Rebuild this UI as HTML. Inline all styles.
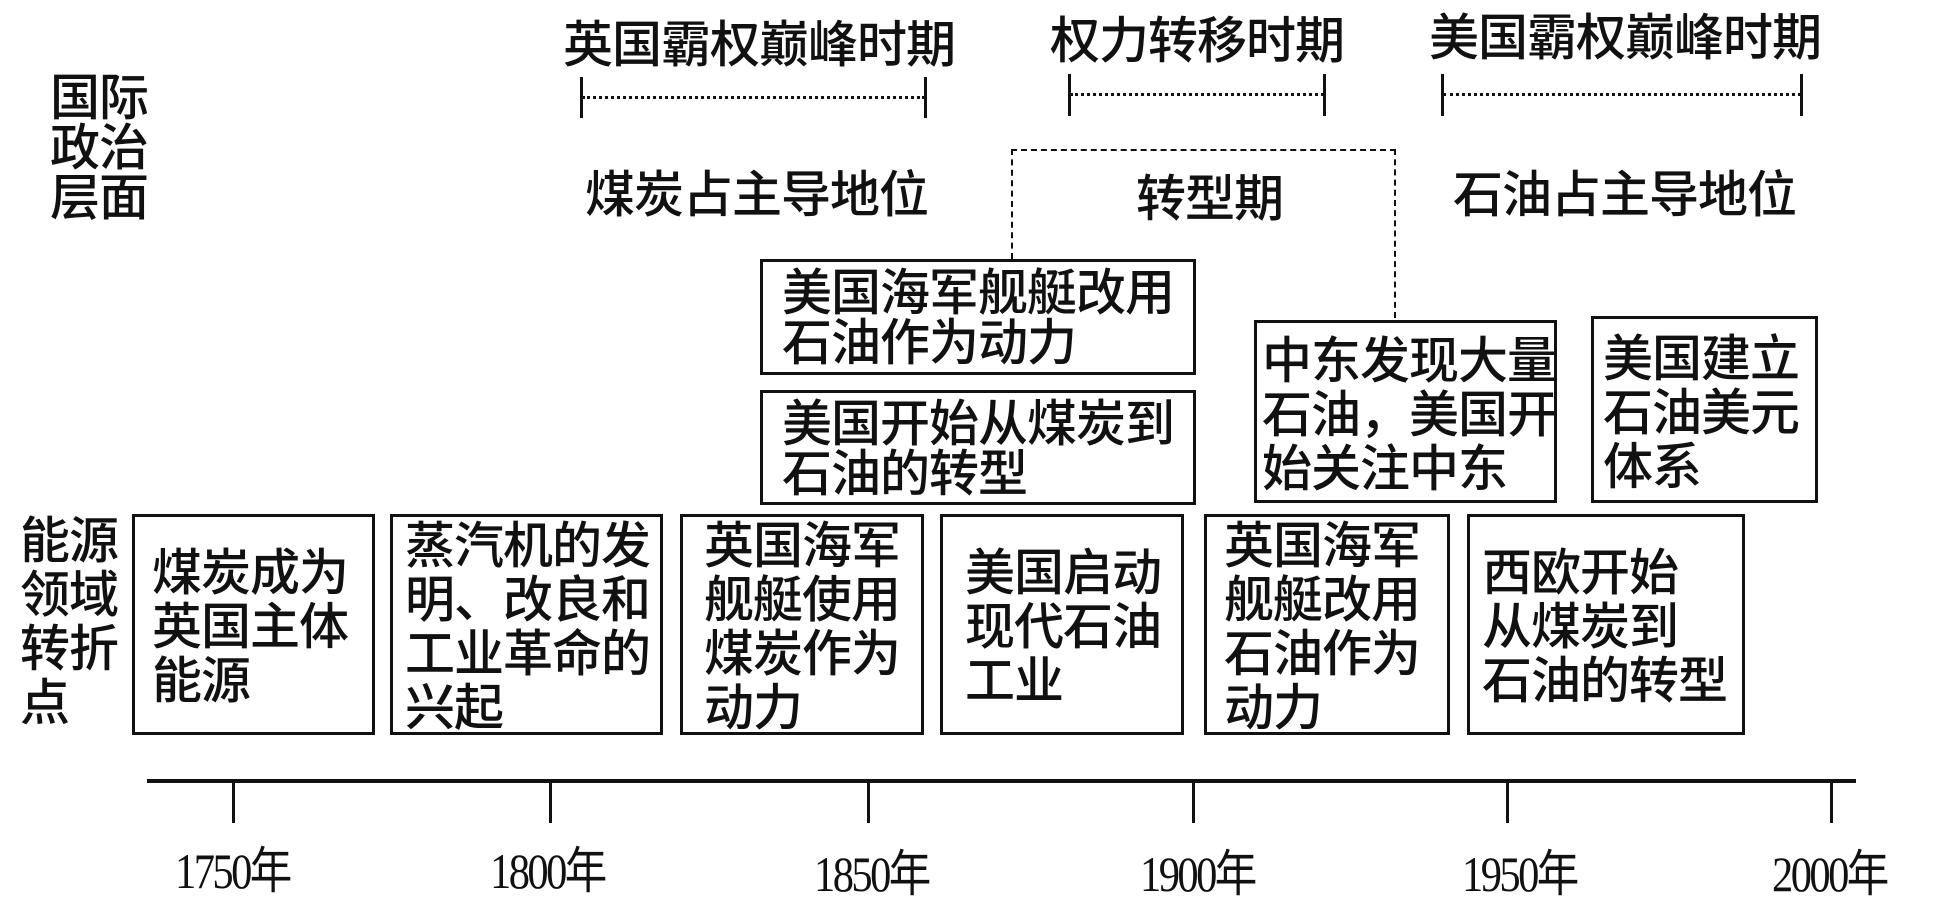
<!DOCTYPE html>
<html><head><meta charset="utf-8"><style>
body{margin:0;width:1953px;height:899px;background:#fff;position:relative;overflow:hidden;font-family:"Liberation Sans","Noto Sans CJK SC",sans-serif;color:#111}
.t{position:absolute;font-size:50px;line-height:54px;white-space:nowrap;font-weight:500;letter-spacing:-1px}
.b{position:absolute;border:3px solid #111;box-sizing:border-box}
.l{position:absolute;background:#111}
.d{position:absolute;border-top:3px dashed #111}
.y{position:absolute;font-family:"Liberation Serif","Noto Sans CJK SC",serif;font-size:50px;transform:scaleX(0.85);transform-origin:left;white-space:nowrap;letter-spacing:-3px}
</style></head><body>
<div class="t" style="left:563px;top:18px;">英国霸权巅峰时期</div>
<div class="t" style="left:1050px;top:14px;">权力转移时期</div>
<div class="t" style="left:1429px;top:11px;">美国霸权巅峰时期</div>
<div class="d" style="left:582px;top:96px;width:343px;border-top-style:dotted"></div>
<div class="l" style="left:580px;top:77px;width:3px;height:41px"></div>
<div class="l" style="left:924px;top:77px;width:3px;height:41px"></div>
<div class="d" style="left:1070px;top:93px;width:254px;border-top-style:dotted"></div>
<div class="l" style="left:1068px;top:74px;width:3px;height:42px"></div>
<div class="l" style="left:1323px;top:74px;width:3px;height:42px"></div>
<div class="d" style="left:1443px;top:93px;width:358px;border-top-style:dotted"></div>
<div class="l" style="left:1441px;top:74px;width:3px;height:42px"></div>
<div class="l" style="left:1800px;top:74px;width:3px;height:42px"></div>
<div class="t" style="left:50px;top:73px;line-height:50px">国际<br>政治<br>层面</div>
<div class="t" style="left:585px;top:168px;">煤炭占主导地位</div>
<div class="t" style="left:1136px;top:172px;">转型期</div>
<div class="t" style="left:1453px;top:168px;">石油占主导地位</div>
<div class="d" style="left:1011px;top:149px;width:385px;border-top-width:2px"></div>
<div style="position:absolute;left:1011px;top:149px;height:110px;border-left:2px dashed #111"></div>
<div style="position:absolute;left:1394px;top:149px;height:169px;border-left:2px dashed #111"></div>
<div class="b" style="left:760px;top:259px;width:436px;height:116px"></div>
<div class="t" style="left:782px;top:268px;line-height:50px">美国海军舰艇改用<br>石油作为动力</div>
<div class="b" style="left:760px;top:390px;width:436px;height:115px"></div>
<div class="t" style="left:782px;top:399px;line-height:50px">美国开始从煤炭到<br>石油的转型</div>
<div class="b" style="left:1254px;top:320px;width:303px;height:183px"></div>
<div class="t" style="left:1262px;top:334px;">中东发现大量<br>石油，美国开<br>始关注中东</div>
<div class="b" style="left:1591px;top:316px;width:227px;height:187px"></div>
<div class="t" style="left:1603px;top:332px;">美国建立<br>石油美元<br>体系</div>
<div class="t" style="left:20px;top:514px;line-height:54px">能源<br>领域<br>转折<br>点</div>
<div class="b" style="left:132px;top:514px;width:243px;height:221px"></div>
<div class="t" style="left:152px;top:546px;">煤炭成为<br>英国主体<br>能源</div>
<div class="b" style="left:390px;top:514px;width:273px;height:221px"></div>
<div class="t" style="left:405px;top:519px;">蒸汽机的发<br>明、改良和<br>工业革命的<br>兴起</div>
<div class="b" style="left:680px;top:514px;width:244px;height:221px"></div>
<div class="t" style="left:704px;top:519px;">英国海军<br>舰艇使用<br>煤炭作为<br>动力</div>
<div class="b" style="left:940px;top:514px;width:244px;height:221px"></div>
<div class="t" style="left:965px;top:546px;">美国启动<br>现代石油<br>工业</div>
<div class="b" style="left:1204px;top:514px;width:246px;height:221px"></div>
<div class="t" style="left:1224px;top:519px;">英国海军<br>舰艇改用<br>石油作为<br>动力</div>
<div class="b" style="left:1467px;top:514px;width:278px;height:221px"></div>
<div class="t" style="left:1482px;top:546px;">西欧开始<br>从煤炭到<br>石油的转型</div>
<div class="l" style="left:147px;top:779px;width:1709px;height:4px"></div>
<div class="l" style="left:232px;top:781px;width:3px;height:42px"></div>
<div class="l" style="left:549px;top:781px;width:3px;height:42px"></div>
<div class="l" style="left:867px;top:781px;width:3px;height:42px"></div>
<div class="l" style="left:1192px;top:781px;width:3px;height:42px"></div>
<div class="l" style="left:1506px;top:781px;width:3px;height:42px"></div>
<div class="l" style="left:1830px;top:781px;width:3px;height:42px"></div>
<div class="y" style="left:175px;top:831px;">1750年</div>
<div class="y" style="left:490px;top:831px;">1800年</div>
<div class="y" style="left:814px;top:834px;">1850年</div>
<div class="y" style="left:1140px;top:834px;">1900年</div>
<div class="y" style="left:1462px;top:834px;">1950年</div>
<div class="y" style="left:1772px;top:834px;">2000年</div>
</body></html>
